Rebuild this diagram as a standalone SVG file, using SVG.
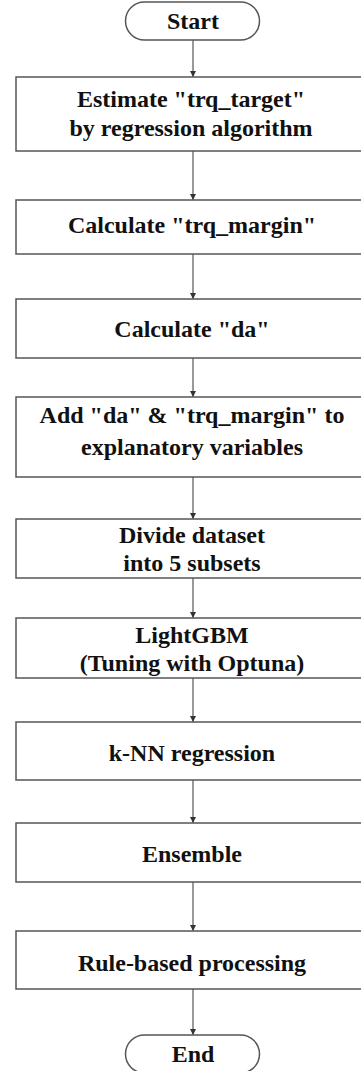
<svg xmlns="http://www.w3.org/2000/svg" width="361" height="1071" viewBox="0 0 361 1071">
  <style>
    .box { fill: #ffffff; stroke: #555555; stroke-width: 1.5; }
    .lbl { font-weight: bold; font-size: 24px; fill: #111111; text-anchor: middle; }
    .conn { stroke: #555555; stroke-width: 1.2; fill: none; marker-end: url(#arrow); }
  </style>
  <defs>
    <marker id="arrow" viewBox="0 0 6 6" refX="6" refY="3" markerWidth="6" markerHeight="6" markerUnits="userSpaceOnUse" orient="auto">
      <path d="M0,0 L6,3 L0,6 Z" fill="#333333"/>
    </marker>
  </defs>
  <rect width="361" height="1071" fill="#ffffff"/>

  <g id="connectors">
    <line class="conn" x1="193" y1="40" x2="193" y2="77"/>
    <line class="conn" x1="193" y1="151" x2="193" y2="200"/>
    <line class="conn" x1="193" y1="254" x2="193" y2="299"/>
    <line class="conn" x1="193" y1="358" x2="193" y2="397"/>
    <line class="conn" x1="193" y1="477" x2="193" y2="519"/>
    <line class="conn" x1="193" y1="578" x2="193" y2="618"/>
    <line class="conn" x1="193" y1="678" x2="193" y2="722"/>
    <line class="conn" x1="193" y1="780" x2="193" y2="823"/>
    <line class="conn" x1="193" y1="882" x2="193" y2="931"/>
    <line class="conn" x1="193" y1="989" x2="193" y2="1035"/>
  </g>

  <g font-family="Liberation Serif, Times New Roman, DejaVu Serif, serif">
  <g id="start">
    <rect class="box" x="125.5" y="2" width="134" height="38" rx="19" ry="19"/>
    <text class="lbl" x="193" y="29">Start</text>
  </g>
  <g id="estimate">
    <rect class="box" x="16" y="77" width="350" height="74"/>
    <text class="lbl" x="191" y="107">Estimate "trq_target"</text>
    <text class="lbl" x="191" y="136">by regression algorithm</text>
  </g>
  <g id="calc-margin">
    <rect class="box" x="16" y="200" width="350" height="54"/>
    <text class="lbl" x="192" y="233">Calculate "trq_margin"</text>
  </g>
  <g id="calc-da">
    <rect class="box" x="16" y="299" width="350" height="59"/>
    <text class="lbl" x="192" y="337">Calculate "da"</text>
  </g>
  <g id="add-vars">
    <rect class="box" x="16" y="397" width="350" height="80"/>
    <text class="lbl" x="192" y="423">Add "da" &amp; "trq_margin" to</text>
    <text class="lbl" x="192" y="455">explanatory variables</text>
  </g>
  <g id="divide">
    <rect class="box" x="16" y="519" width="350" height="59"/>
    <text class="lbl" x="192" y="543">Divide dataset</text>
    <text class="lbl" x="192" y="571">into 5 subsets</text>
  </g>
  <g id="lightgbm">
    <rect class="box" x="16" y="618" width="350" height="60"/>
    <text class="lbl" x="192" y="643">LightGBM</text>
    <text class="lbl" x="192" y="671">(Tuning with Optuna)</text>
  </g>
  <g id="knn">
    <rect class="box" x="16" y="722" width="350" height="58"/>
    <text class="lbl" x="192" y="761">k-NN regression</text>
  </g>
  <g id="ensemble">
    <rect class="box" x="16" y="823" width="350" height="59"/>
    <text class="lbl" x="192" y="862">Ensemble</text>
  </g>
  <g id="rule-based">
    <rect class="box" x="16" y="931" width="350" height="58"/>
    <text class="lbl" x="192" y="971">Rule-based processing</text>
  </g>
  <g id="end">
    <rect class="box" x="125.5" y="1035" width="134" height="38" rx="19" ry="19"/>
    <text class="lbl" x="193" y="1062">End</text>
  </g>
  </g>
</svg>
